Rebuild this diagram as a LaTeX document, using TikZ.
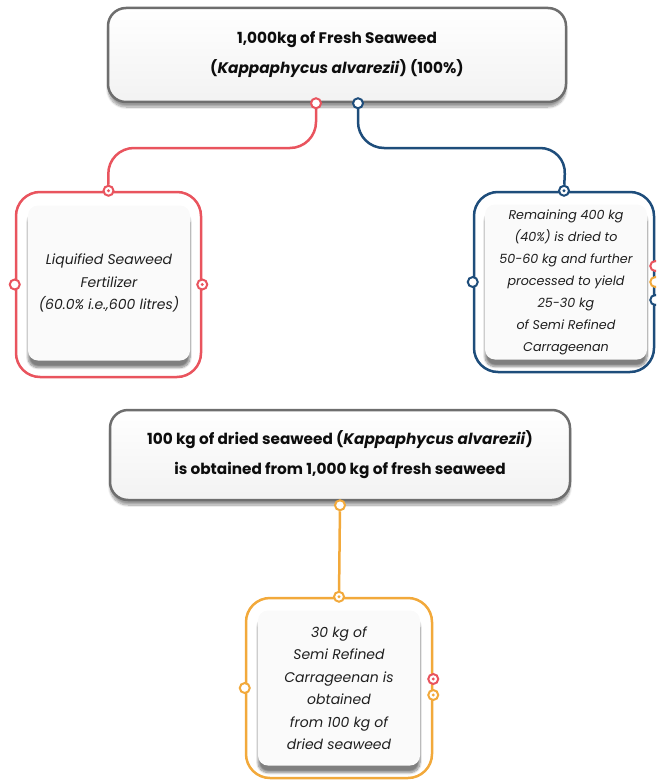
\documentclass[tikz,border=0pt]{standalone}
\usepackage{fontspec}
\setmainfont{Poppins}
\usetikzlibrary{positioning,calc,shadows.blur,backgrounds}
\definecolor{seared}{HTML}{E9545E}
\definecolor{seablue}{HTML}{1E4D7B}
\definecolor{seaorange}{HTML}{F2A93B}
\definecolor{framegray}{HTML}{6E6E6E}
\tikzset{
  titlebox/.style  = {draw=framegray, line width=2.5pt, rounded corners=18pt,
                      top color=white, bottom color=gray!10, align=center,
                      text=black!95, font=\bfseries\fontsize{15.3}{30}\selectfont,
                      blur shadow={shadow xshift=0pt, shadow yshift=-5pt,
                      shadow blur steps=10, shadow opacity=40}},
  frame/.style     = {draw=#1, line width=2.5pt, rounded corners=24pt},
  card/.style      = {fill=gray!4, rounded corners=10pt, align=center,
                      minimum width=162pt, minimum height=155pt, text=black!88,
                      font=\itshape\fontsize{14}{22.5}\selectfont,
                      blur shadow={shadow xshift=0pt, shadow yshift=-7pt,
                      shadow blur steps=10, shadow opacity=50}},
  smallcard/.style = {card, font=\itshape\fontsize{12.7}{22}\selectfont},
  ring/.style      = {circle, draw=#1, fill=white, line width=2pt,
                      minimum size=10pt, inner sep=0pt},
  ringdot/.style   = {ring=#1, path picture={\fill[#1]
                      (path picture bounding box.center) circle (1.6pt);}},
  link/.style      = {draw=#1, line width=2.5pt, rounded corners=26pt}
}
\begin{document}
\begin{tikzpicture}[x=1pt, y=-1pt]
  \useasboundingbox (0,0) rectangle (656,781);
  \clip (0,0) rectangle (656,781);

  \node[titlebox, minimum width=458pt, minimum height=94pt] (fresh) at (337,55)
    {1,000kg of Fresh Seaweed\\ (\textit{Kappaphycus alvarezii}) (100\%)};

  \node[frame=seared, minimum width=185pt, minimum height=185pt] (redframe) at (108.5,284.5) {};
  \node[card] (redcard) at (109,283)
    {Liquified Seaweed\\ Fertilizer\\ (60.0\% i.e.,600 litres)};

  \node[frame=seablue, minimum width=180pt, minimum height=180pt] (blueframe) at (564,282) {};
  \node[smallcard] (bluecard) at (566,282)
    {Remaining 400 kg\\ (40\%) is dried to\\ 50-60 kg and further\\ processed to yield\\
     25-30 kg\\ of Semi Refined\\ Carrageenan};

  \node[titlebox, minimum width=460pt, minimum height=90pt] (dried) at (340,455)
    {100 kg of dried seaweed (\textit{Kappaphycus alvarezii})\\ is obtained from 1,000 kg of fresh seaweed};

  \node[frame=seaorange, minimum width=186pt, minimum height=180pt] (orangeframe) at (339,688) {};
  \node[card] (orangecard) at (339,688)
    {30 kg of\\ Semi Refined\\ Carrageenan is\\ obtained\\ from 100 kg of\\ dried seaweed};

  % rings on the boxes
  \node[ring=seared]  (freshR) at ([xshift=-21pt]fresh.south) {};
  \node[ring=seablue] (freshB) at ([xshift=21pt]fresh.south) {};
  \node[ringdot=seared] (redT) at (redframe.north) {};
  \node[ring=seared]    (redL) at (redframe.west) {};
  \node[ringdot=seared] (redE) at (redframe.east) {};
  \node[ringdot=seablue] (blueT) at (blueframe.north) {};
  \node[ring=seablue]    (blueL) at (blueframe.west) {};
  \node[ring=seared]    (blueE1) at ([yshift=16pt]blueframe.east) {};
  \node[ring=seaorange] (blueE2) at (blueframe.east) {};
  \node[ring=seablue]   (blueE3) at ([yshift=-18pt]blueframe.east) {};
  \node[ring=seaorange]    (dryO) at ([yshift=-4pt]dried.south) {};
  \node[ringdot=seaorange] (orangeT) at (orangeframe.north) {};
  \node[ring=seaorange]    (orangeL) at (orangeframe.west) {};
  \node[ringdot=seared]    (orangeE1) at ([yshift=9pt]orangeframe.east) {};
  \node[ringdot=seaorange] (orangeE2) at ([yshift=-7pt]orangeframe.east) {};

  \coordinate (redbend) at (108,148);
  \coordinate (bluebend) at (566,148);

  \begin{scope}[on background layer]
    \draw[link=seared] (freshR) |- (redbend) -- (redT);
    \draw[link=seablue] (freshB) |- (bluebend) -- (blueT);
    \draw[link=seaorange] (dryO) -- (orangeT);
  \end{scope}
\end{tikzpicture}
\end{document}
